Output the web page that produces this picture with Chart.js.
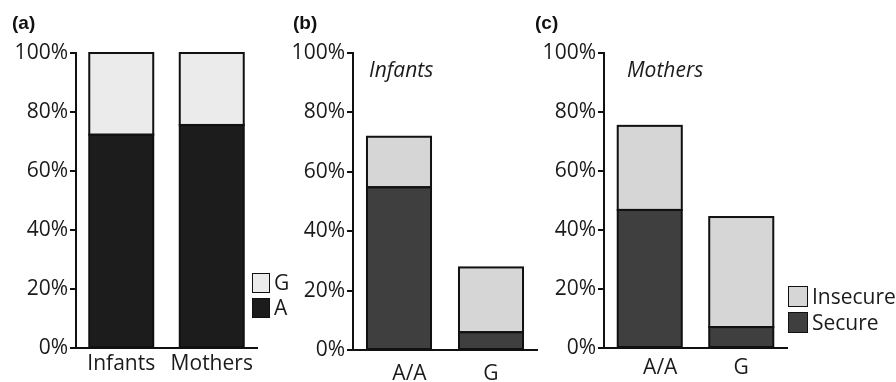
<!DOCTYPE html>
<html>
<head>
<meta charset="utf-8">
<script src="https://cdn.jsdelivr.net/npm/chart.js@4.4.1/dist/chart.umd.min.js"></script>
<style>
  html, body { margin: 0; padding: 0; background: #fff; }
  #wrap { position: relative; width: 896px; height: 382px; overflow: hidden; font-family: "Open Sans", sans-serif; color: #1a1a1a; }
  .panel { position: absolute; top: 0; height: 382px; }
  .tag { position: absolute; font: bold 19px "Liberation Sans", Arial, sans-serif; color: #111; }
  .note { position: absolute; font: italic 21px "Open Sans", sans-serif; color: #1a1a1a; }
  .leg { position: absolute; font: 21px "Open Sans", sans-serif; color: #1a1a1a; }
  .leg .row { position: relative; }
  .leg .box { position: absolute; left: 0; border: 1.5px solid #111; box-sizing: border-box; }
  .leg .lbl { position: absolute; line-height: 20px; white-space: nowrap; }
</style>
</head>
<body>
<div id="wrap">
  <div class="panel" id="pa" style="left:0;width:270px"><canvas id="ca"></canvas></div>
  <div class="panel" id="pb" style="left:277px;width:270px"><canvas id="cb"></canvas></div>
  <div class="panel" id="pc" style="left:528px;width:270px"><canvas id="cc"></canvas></div>

  <div class="tag" style="left:12px;top:12px">(a)</div>
  <div class="tag" style="left:293px;top:12px">(b)</div>
  <div class="tag" style="left:535px;top:12px">(c)</div>

  <div class="note" style="left:369px;top:55px">Infants</div>
  <div class="note" style="left:627px;top:55px">Mothers</div>

  <div class="leg" id="lega" style="left:252px;top:273px"></div>
  <div class="leg" id="legc" style="left:788px;top:286px"></div>
</div>
<script>
// (a) allele frequencies per group
const groupsA = ['Infants', 'Mothers'];
const alleleA = [72.3, 75.6];
const alleleG = [27.7, 24.4];

// (b) infants' attachment by genotype
const genotypes = ['A/A', 'G'];
const infantSecure = [54.8, 6.0];
const infantInsecure = [17.0, 21.8];

// (c) mothers' attachment by genotype
const motherSecure = [46.8, 7.1];
const motherInsecure = [28.5, 37.3];

const tickPercents = [0, 20, 40, 60, 80, 100];

Chart.defaults.font.family = '"Open Sans", sans-serif';
Chart.defaults.color = '#1a1a1a';
Chart.defaults.animation = false;

// Outline every bar segment with a crisp stroke taken from the bar elements
const barOutline = {
  id: 'barOutline',
  afterDatasetsDraw(chart) {
    const ctx = chart.ctx;
    ctx.save();
    ctx.strokeStyle = '#111';
    ctx.lineWidth = 2;
    chart.data.datasets.forEach((ds, di) => {
      chart.getDatasetMeta(di).data.forEach(el => {
        const p = el.getProps(['x', 'y', 'base', 'width'], true);
        const top = Math.min(p.y, p.base);
        const h = Math.abs(p.base - p.y);
        ctx.strokeRect(p.x - p.width / 2, top, p.width, h);
      });
    });
    ctx.restore();
  }
};

function stackedChart(canvasId, labels, sets, geom) {
  return new Chart(document.getElementById(canvasId), {
    type: 'bar',
    data: {
      labels: labels,
      datasets: sets.map(s => ({
        label: s.label,
        data: s.data,
        backgroundColor: s.color,
        borderWidth: 0,
        barPercentage: geom.bar,
        categoryPercentage: 1.0
      }))
    },
    plugins: [barOutline],
    options: {
      responsive: true,
      maintainAspectRatio: false,
      layout: { padding: { top: geom.top, right: geom.right, left: 0, bottom: 0 } },
      plugins: { legend: { display: false }, tooltip: { enabled: false } },
      scales: {
        x: {
          stacked: true,
          grid: { display: false, drawTicks: false },
          border: { display: true, color: '#111', width: 2 },
          ticks: {
            font: { size: 21 }, padding: geom.xpad, color: '#1a1a1a',
            // first genotype label sits a little right of its bar
            callback: function (v, i) {
              const t = this.getLabelForValue(v);
              return geom.shiftFirst && i === 0 ? '\u2002\u2002' + t : t;
            }
          },
          afterFit: s => { s.height = geom.xh; }
        },
        y: {
          stacked: true,
          min: 0, max: 100,
          afterBuildTicks: s => { s.ticks = tickPercents.map(v => ({ value: v })); },
          ticks: { font: { size: 21 }, padding: 2, color: '#1a1a1a', callback: v => v + '%' },
          grid: { drawOnChartArea: false, drawTicks: true, tickLength: 6, color: '#111', lineWidth: 2 },
          border: { display: true, color: '#111', width: 2 },
          afterFit: s => { s.width = geom.yw; }
        }
      }
    }
  });
}

stackedChart('ca', groupsA, [
  { label: 'A', data: alleleA, color: '#1c1c1c' },
  { label: 'G', data: alleleG, color: '#ebebeb' }
], { top: 53, right: 13, yw: 76, xh: 34, bar: 0.707, xpad: 3, shiftFirst: false });

stackedChart('cb', genotypes, [
  { label: 'Secure', data: infantSecure, color: '#3f3f3f' },
  { label: 'Insecure', data: infantInsecure, color: '#d6d6d6' }
], { top: 53, right: 10, yw: 76, xh: 32, bar: 0.696, xpad: 11, shiftFirst: true });

stackedChart('cc', genotypes, [
  { label: 'Secure', data: motherSecure, color: '#3f3f3f' },
  { label: 'Insecure', data: motherInsecure, color: '#d6d6d6' }
], { top: 53, right: 11, yw: 76, xh: 34, bar: 0.70, xpad: 7, shiftFirst: true });

// Legends list the upper segment first, like the stacks read top-down
function buildLegend(id, items, boxW, boxH, gap) {
  const el = document.getElementById(id);
  items.forEach(it => {
    const row = document.createElement('div');
    row.className = 'row';
    row.style.height = gap + 'px';
    const box = document.createElement('div');
    box.className = 'box';
    box.style.width = boxW + 'px';
    box.style.height = boxH + 'px';
    box.style.background = it.color;
    const lbl = document.createElement('div');
    lbl.className = 'lbl';
    lbl.style.left = (boxW + 4) + 'px';
    lbl.style.top = ((boxH - 20) / 2 - 1) + 'px';
    lbl.textContent = it.label;
    row.appendChild(box);
    row.appendChild(lbl);
    el.appendChild(row);
  });
}
buildLegend('lega', [{ label: 'G', color: '#ebebeb' }, { label: 'A', color: '#1c1c1c' }], 18, 20, 25);
buildLegend('legc', [{ label: 'Insecure', color: '#d6d6d6' }, { label: 'Secure', color: '#3f3f3f' }], 20, 21, 26);
</script>
</body>
</html>
